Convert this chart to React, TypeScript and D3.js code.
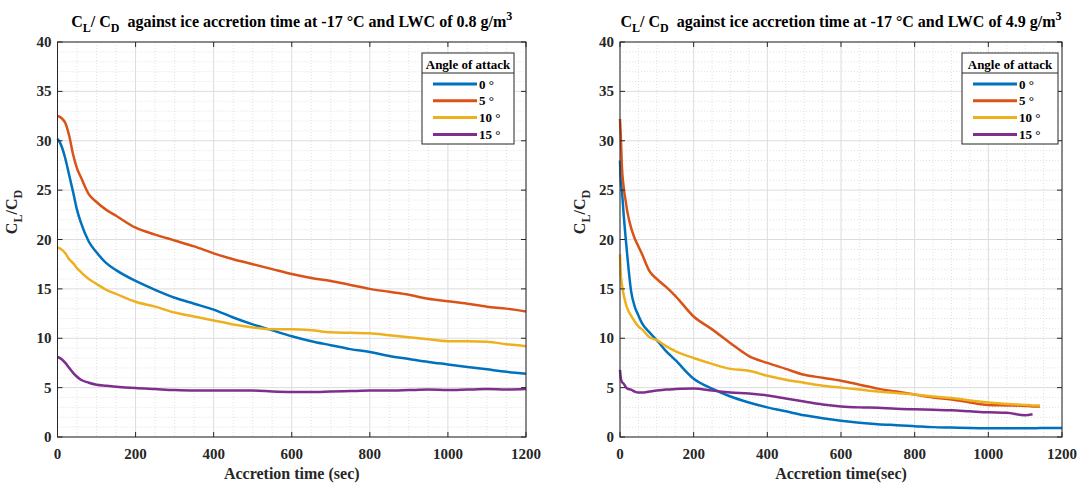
import React from 'react';
import * as d3 from 'd3';

// ---- data ----
const timeLeft = [0, 10, 20, 30, 40, 50, 60, 80, 100, 125, 150, 200, 250, 300, 350, 400, 450, 500, 550, 600, 650, 700, 750, 800, 850, 900, 950, 1000, 1050, 1100, 1150, 1200];
const left0 = [30.2, 29.5, 28.2, 26.5, 24.8, 23.0, 21.7, 19.8, 18.7, 17.6, 16.9, 15.8, 14.9, 14.1, 13.5, 12.9, 12.1, 11.4, 10.8, 10.2, 9.7, 9.3, 8.9, 8.6, 8.2, 7.9, 7.6, 7.35, 7.1, 6.85, 6.6, 6.4];
const left5 = [32.5, 32.3, 31.8, 30.5, 28.6, 27.2, 26.3, 24.6, 23.8, 23.0, 22.4, 21.2, 20.5, 19.9, 19.3, 18.6, 18.0, 17.5, 17.0, 16.5, 16.1, 15.8, 15.4, 15.0, 14.7, 14.4, 14.0, 13.75, 13.5, 13.2, 13.0, 12.7];
const left10 = [19.2, 19.0, 18.6, 18.0, 17.6, 17.1, 16.7, 16.0, 15.5, 14.9, 14.5, 13.7, 13.2, 12.6, 12.2, 11.8, 11.4, 11.1, 10.9, 10.9, 10.8, 10.6, 10.55, 10.5, 10.3, 10.1, 9.9, 9.7, 9.7, 9.65, 9.4, 9.2];
const left15 = [8.1, 7.9, 7.5, 7.0, 6.5, 6.1, 5.8, 5.5, 5.3, 5.2, 5.1, 4.95, 4.85, 4.75, 4.7, 4.7, 4.7, 4.7, 4.6, 4.55, 4.55, 4.6, 4.65, 4.7, 4.7, 4.75, 4.8, 4.75, 4.8, 4.85, 4.8, 4.85];

const timeRight = [0, 2, 5, 10, 15, 20, 30, 40, 50, 60, 80, 100, 125, 150, 200, 250, 300, 350, 400, 450, 500, 550, 600, 650, 700, 750, 800, 850, 900, 950, 1000, 1050, 1100, 1120, 1140, 1200];
const right0 = [28.0, 26.0, 25.0, 22.5, 20.3, 18.3, 14.8, 13.2, 12.3, 11.5, 10.6, 9.8, 8.7, 7.8, 5.9, 4.9, 4.1, 3.5, 3.0, 2.6, 2.2, 1.9, 1.65, 1.45, 1.3, 1.2, 1.1, 1.0, 0.95, 0.9, 0.88, 0.88, 0.88, 0.88, 0.9, 0.9];
const right5 = [32.2, 30.7, 27.5, 25.3, 24.0, 22.8, 21.2, 20.1, 19.3, 18.5, 16.8, 16.0, 15.2, 14.3, 12.2, 10.9, 9.5, 8.2, 7.5, 6.9, 6.3, 6.0, 5.7, 5.3, 4.9, 4.6, 4.3, 4.0, 3.8, 3.5, 3.25, 3.2, 3.15, 3.1, 3.1, null];
const right10 = [18.5, 16.6, 15.5, 14.4, 13.6, 13.0, 12.3, 11.7, 11.2, 10.9, 10.1, 9.8, 9.2, 8.7, 8.0, 7.4, 6.9, 6.7, 6.2, 5.8, 5.5, 5.2, 5.0, 4.8, 4.6, 4.45, 4.3, 4.1, 3.95, 3.7, 3.5, 3.35, 3.25, 3.2, 3.2, null];
const right15 = [6.8, 6.0, 5.6, 5.4, 5.1, 4.9, 4.8, 4.6, 4.5, 4.5, 4.6, 4.7, 4.8, 4.85, 4.9, 4.7, 4.5, 4.4, 4.2, 3.9, 3.6, 3.3, 3.1, 3.0, 2.95, 2.85, 2.8, 2.75, 2.7, 2.6, 2.5, 2.45, 2.2, 2.3, null, null];

const angleLabels = ['0 °', '5 °', '10 °', '15 °'];
const colors = ['#0072BD', '#D95319', '#EDB120', '#7E2F8E'];
const xTicks = [0, 200, 400, 600, 800, 1000, 1200];
const yTicks = [0, 5, 10, 15, 20, 25, 30, 35, 40];

const FONT = '"Liberation Serif", "Times New Roman", serif';
const TOP = 42;
const BOTTOM = 437;

type Series = (number | null)[];

function Panel({ x0, x1, time, series, lwc, xlabel, legendX, legendW, ylabelX }: {
  x0: number; x1: number; time: number[]; series: Series[]; lwc: string;
  xlabel: string; legendX: number; legendW: number; ylabelX: number;
}) {
  const x = d3.scaleLinear().domain([0, 1200]).range([x0, x1]);
  const y = d3.scaleLinear().domain([0, 40]).range([BOTTOM, TOP]);
  const line = d3.line<[number, number | null]>()
    .defined(d => d[1] != null)
    .x(d => x(d[0]))
    .y(d => y(d[1] as number))
    .curve(d3.curveMonotoneX);

  const minorX = d3.range(0, 1201, 50).filter(v => v % 200 !== 0);
  const minorY = d3.range(0, 41, 1).filter(v => v % 5 !== 0);
  const cx = (x0 + x1) / 2;

  return (
    <g>
      <rect x={x0} y={TOP} width={x1 - x0} height={BOTTOM - TOP} fill="#fff" />
      {/* minor grid */}
      {minorX.map(v => (
        <line key={'mx' + v} x1={x(v)} x2={x(v)} y1={TOP} y2={BOTTOM} stroke="#d4d4d4" strokeWidth={0.7} strokeDasharray="1,2" />
      ))}
      {minorY.map(v => (
        <line key={'my' + v} x1={x0} x2={x1} y1={y(v)} y2={y(v)} stroke="#d4d4d4" strokeWidth={0.7} strokeDasharray="1,2" />
      ))}
      {/* major grid */}
      {xTicks.map(v => (
        <line key={'gx' + v} x1={x(v)} x2={x(v)} y1={TOP} y2={BOTTOM} stroke="#dcdcdc" strokeWidth={1} />
      ))}
      {yTicks.map(v => (
        <line key={'gy' + v} x1={x0} x2={x1} y1={y(v)} y2={y(v)} stroke="#dcdcdc" strokeWidth={1} />
      ))}
      {/* lines */}
      {series.map((s, i) => (
        <path key={'s' + i} d={line(time.map((t, j) => [t, s[j]] as [number, number | null])) || ''}
          fill="none" stroke={colors[i]} strokeWidth={2.5} strokeLinejoin="round" />
      ))}
      {/* box and ticks */}
      <rect x={x0} y={TOP} width={x1 - x0} height={BOTTOM - TOP} fill="none" stroke="#262626" strokeWidth={1} />
      {xTicks.map(v => (
        <g key={'tx' + v}>
          <line x1={x(v)} x2={x(v)} y1={BOTTOM} y2={BOTTOM - 5} stroke="#262626" />
          <line x1={x(v)} x2={x(v)} y1={TOP} y2={TOP + 5} stroke="#262626" />
          <text x={x(v)} y={459} textAnchor="middle" fontFamily={FONT} fontWeight="bold" fontSize={15} fill="#262626">{v}</text>
        </g>
      ))}
      {yTicks.map(v => (
        <g key={'ty' + v}>
          <line x1={x0} x2={x0 + 5} y1={y(v)} y2={y(v)} stroke="#262626" />
          <line x1={x1} x2={x1 - 5} y1={y(v)} y2={y(v)} stroke="#262626" />
          <text x={x0 - 6} y={y(v) + 5} textAnchor="end" fontFamily={FONT} fontWeight="bold" fontSize={15} fill="#262626">{v}</text>
        </g>
      ))}
      {/* title */}
      <text x={cx} y={27} textAnchor="middle" fontFamily={FONT} fontWeight="bold" fontSize={16} fill="#000">
        C<tspan fontSize={12} dy={5}>L</tspan><tspan dy={-5}>/ C</tspan><tspan fontSize={12} dy={5}>D</tspan>
        <tspan dy={-5} xmlSpace="preserve">{'  against ice accretion time at -17 °C and LWC of ' + lwc + ' g/m'}</tspan>
        <tspan fontSize={12} dy={-7}>3</tspan>
      </text>
      {/* x label */}
      <text x={cx} y={479} textAnchor="middle" fontFamily={FONT} fontWeight="bold" fontSize={16} fill="#262626">{xlabel}</text>
      {/* y label */}
      <text transform={`translate(${ylabelX},${212}) rotate(-90)`} textAnchor="middle" fontFamily={FONT} fontWeight="bold" fontSize={16} fill="#262626">
        C<tspan fontSize={12} dy={5}>L</tspan><tspan dy={-5}>/C</tspan><tspan fontSize={12} dy={5}>D</tspan>
      </text>
      {/* legend */}
      <g>
        <rect x={legendX} y={53} width={legendW} height={91} fill="#fff" stroke="#262626" strokeWidth={1} />
        <text x={legendX + legendW / 2} y={68.5} textAnchor="middle" fontFamily={FONT} fontWeight="bold" fontSize={13} fill="#000">Angle of attack</text>
        <line x1={legendX} x2={legendX + legendW} y1={73} y2={73} stroke="#262626" />
        {angleLabels.map((lab, i) => {
          const ly = 84 + i * 16.8;
          return (
            <g key={lab}>
              <line x1={legendX + 11} x2={legendX + 55} y1={ly} y2={ly} stroke={colors[i]} strokeWidth={3} />
              <text x={legendX + 57} y={ly + 4.5} fontFamily={FONT} fontWeight="bold" fontSize={13} fill="#000">{lab}</text>
            </g>
          );
        })}
      </g>
    </g>
  );
}

export default function App() {
  return (
    <div style={{ position: 'absolute', left: 0, top: 0 }}>
      <svg width={1078} height={486} style={{ display: 'block', background: '#fff' }}>
        <rect width={1078} height={486} fill="#fff" />
        <Panel x0={57.5} x1={526} time={timeLeft} series={[left0, left5, left10, left15]} lwc="0.8"
          xlabel="Accretion time (sec)" legendX={422} legendW={92} ylabelX={17} />
        <Panel x0={620} x1={1062} time={timeRight} series={[right0, right5, right10, right15]} lwc="4.9"
          xlabel="Accretion time(sec)" legendX={962} legendW={96} ylabelX={585} />
      </svg>
    </div>
  );
}
